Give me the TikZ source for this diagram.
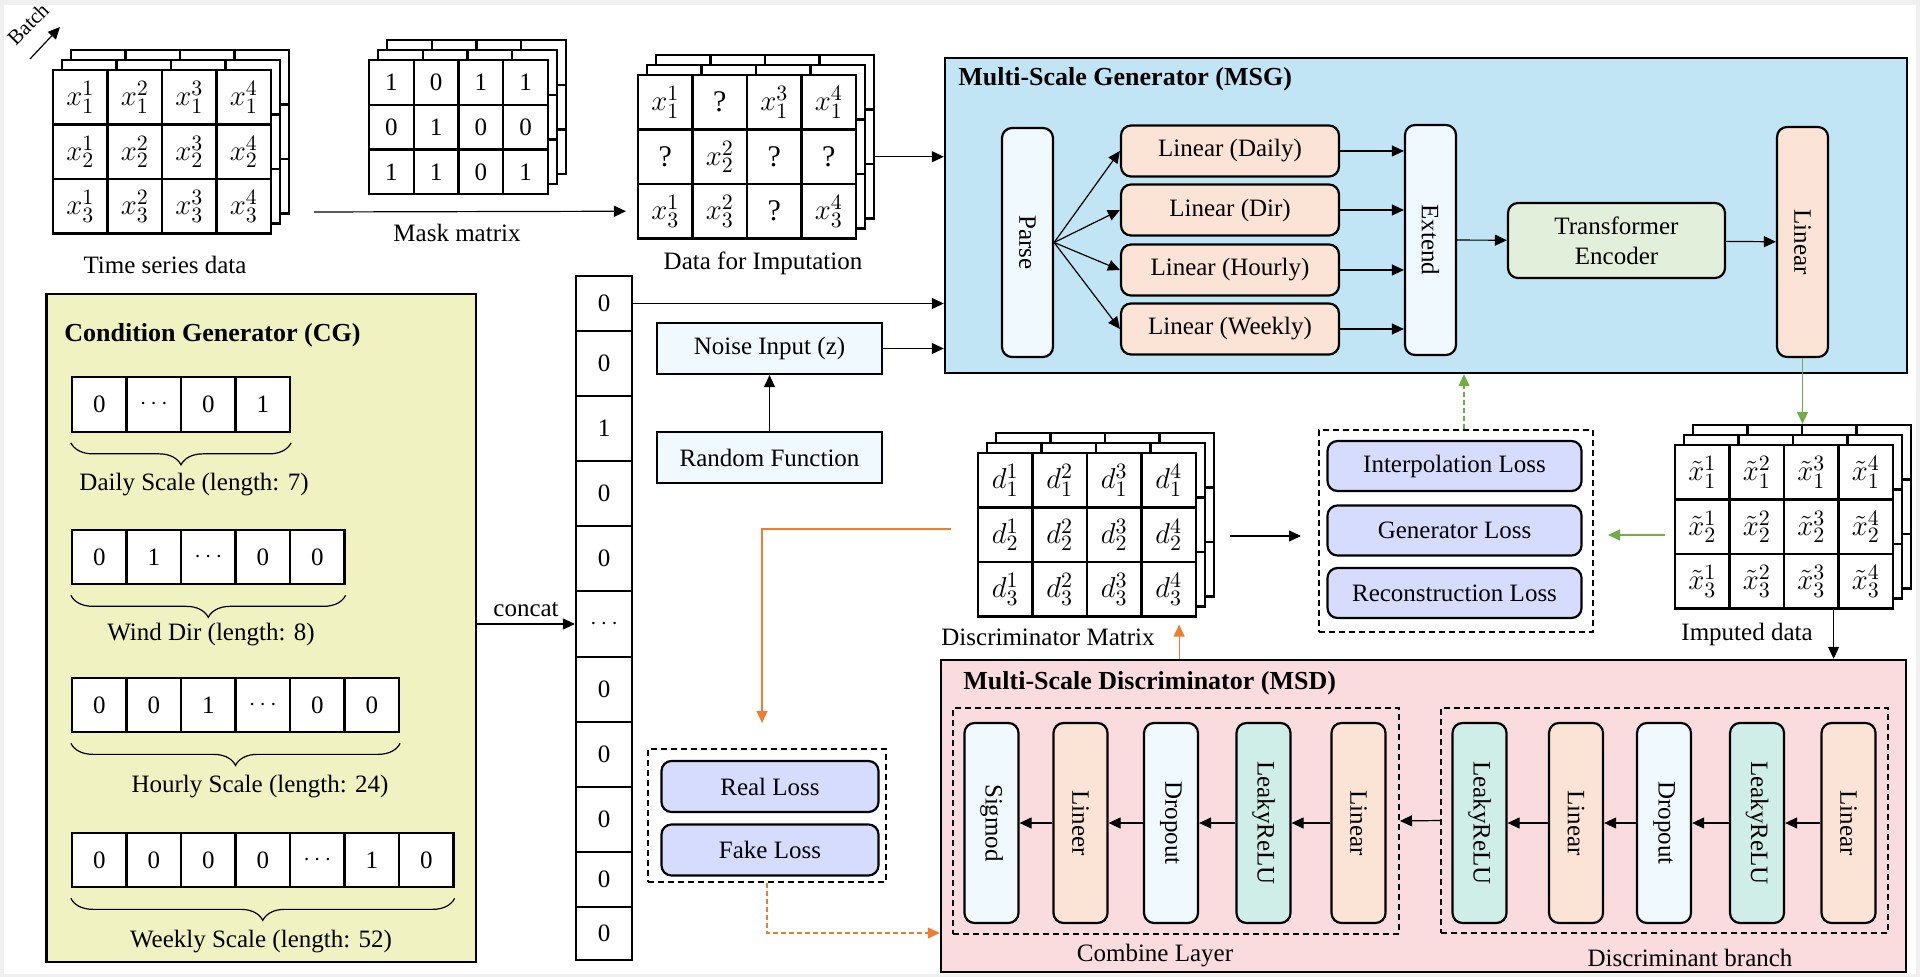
\documentclass[tikz,border=0pt]{standalone}
\usepackage{fontspec}
\setmainfont{Liberation Serif}
\usepackage{graphicx}
\usepackage{tikz}
\usetikzlibrary{arrows.meta}
\usetikzlibrary{decorations.pathreplacing}
\usetikzlibrary{calc}
\definecolor{pagegray}{RGB}{240,240,240}
\definecolor{cgyellow}{RGB}{240,243,193}
\definecolor{msgblue}{RGB}{193,229,245}
\definecolor{msdpink}{RGB}{250,219,222}
\definecolor{paleblue}{RGB}{239,249,254}
\definecolor{peach}{RGB}{251,227,214}
\definecolor{encgreen}{RGB}{226,239,218}
\definecolor{lossblue}{RGB}{214,220,254}
\definecolor{mint}{RGB}{207,238,231}
\definecolor{gline}{RGB}{112,173,71}
\definecolor{oline}{RGB}{237,125,49}
\tikzstyle{cell}=[draw, fill=white, line width=1.1pt, inner sep=0pt]
\tikzstyle{mathcell}=[cell, minimum size=27.25pt, font=\fontsize{15}{17}\selectfont]
\tikzstyle{bit}=[cell, minimum width=27.25pt, minimum height=27.25pt]
\tikzstyle{panel}=[draw, line width=1.2pt, inner sep=0pt]
\tikzstyle{rect}=[draw, line width=1.1pt, inner sep=0pt, minimum width=112.5pt, minimum height=25.5pt]
\tikzstyle{block}=[draw, rounded corners=5pt, line width=1.1pt, inner sep=0pt, align=center]
\tikzstyle{vblock}=[block, minimum width=27pt, minimum height=100pt]
\tikzstyle{dashbox}=[draw, line width=1pt, dash pattern=on 3pt off 2pt, inner sep=0pt]
\tikzstyle{edge}=[draw, line width=0.6pt, -{Triangle[length=6pt,width=5.5pt]}]
\tikzstyle{gedge}=[edge, gline]
\tikzstyle{oedge}=[edge, oline]
\tikzstyle{scalebrace}=[draw, line width=0.6pt, decorate, decoration={brace, mirror, amplitude=11pt}]
\tikzstyle{title}=[anchor=west, inner sep=0pt, font=\fontsize{13}{15}\selectfont\bfseries]

\begin{document}
\begin{tikzpicture}[x=0.5pt, y=-0.5pt, font=\fontsize{12.5}{15}\selectfont]
    \useasboundingbox (0,0) rectangle (1920,977);
    \fill[pagegray] (0,0) rectangle (1920,977);
    \fill[white] (4,5) rectangle (1916,974);

    % First the three panels
    \node[panel, fill=cgyellow, minimum width=214.75pt, minimum height=334pt] (cg) at (261.25,628) {};
    \node[panel, fill=msgblue, minimum width=481pt, minimum height=157.5pt] (msg) at (1426,215.5) {};
    \node[panel, fill=msdpink, minimum width=482.5pt, minimum height=156pt] (msd) at (1423.5,816) {};
    \node[title] (cgtitle) at (64,335) {Condition Generator (CG)};
    \node[title] (msgtitle) at (958,79) {Multi-Scale Generator (MSG)};
    \node[title] (msdtitle) at (963,683) {Multi-Scale Discriminator (MSD)};

    % Stacked matrices: the two layers behind
    \foreach \mx/\my/\s/\nm in {53/70/54.5/ts, 369/60/44.75/mk, 638/75/54.5/di, 978/453/54.5/dm, 1675/445/54.5/im}
        \foreach \k in {2,1}
            \foreach \r in {1,2,3}
                \foreach \c in {1,...,4}
                    \node[cell, minimum width=\s*0.5pt, minimum height=\s*0.5pt] (\nm-b\k-\r-\c) at ({\mx+\k*9+(\c-0.5)*\s}, {\my-\k*10+(\r-0.5)*\s}) {};

    % Front layers
    \foreach \mx/\my/\nm/\sym in {53/70/ts/x, 978/453/dm/d, 1675/445/im/{\tilde{x}}}
        \foreach \r in {1,2,3}
            \foreach \c in {1,...,4}
                \node[mathcell] (\nm-\r-\c) at ({\mx+(\c-0.5)*54.5}, {\my+(\r-0.5)*54.5}) {$\sym_{\r}^{\c}$};

    \foreach \r/\vals in {1/{1,0,1,1}, 2/{0,1,0,0}, 3/{1,1,0,1}}
        \foreach \v [count=\c] in \vals
            \node[cell, minimum size=22.4pt] (mk-\r-\c) at ({369+(\c-0.5)*44.75}, {60+(\r-0.5)*44.75}) {\v};

    \foreach \r/\c/\v in {1/1/{$x_1^1$}, 1/2/?, 1/3/{$x_1^3$}, 1/4/{$x_1^4$}, 2/1/?, 2/2/{$x_2^2$}, 2/3/?, 2/4/?, 3/1/{$x_3^1$}, 3/2/{$x_3^2$}, 3/3/?, 3/4/{$x_3^4$}}
        \node[mathcell] (di-\r-\c) at ({638+(\c-0.5)*54.5}, {75+(\r-0.5)*54.5}) {\v};

    \node (tslabel) at (165,265) {Time series data};
    \node (mklabel) at (457,233) {Mask matrix};
    \node (dilabel) at (763,263) {Data for Imputation};
    \node (dmlabel) at (1048,637) {Discriminator Matrix};
    \node (imlabel) at (1747,634) {Imputed data};

    \node[rotate=45, font=\fontsize{10.5}{12}\selectfont] (batch) at (28,24) {Batch};
    \coordinate (bstart) at (30,59);
    \coordinate (bend) at (60,27);
    \draw[edge] (bstart) -- (bend);

    \coordinate (tsout) at (314,212);
    \draw[edge] (tsout) -- ([xshift=-5.5pt]di-3-1.west);
    \draw[edge] (di-2-4.east -| di-b2-2-4.east) -- (di-2-4.east -| msg.west);

    % One-hot vectors of the condition generator
    \foreach \y/\nm/\vals in {404.5/daily/{0,$\cdots$,0,1}, 557/wind/{0,1,$\cdots$,0,0}, 705/hourly/{0,0,1,$\cdots$,0,0}, 860/weekly/{0,0,0,0,$\cdots$,1,0}}
        \foreach \v [count=\c] in \vals
            \node[bit] (\nm-\c) at ({72+(\c-0.5)*54.5}, \y) {\v};

    \foreach \nm/\n/\lab/\lx/\ly in {daily/4/{Daily Scale (length: 7)}/194/485, wind/5/{Wind Dir (length: 8)}/211/635, hourly/6/{Hourly Scale (length: 24)}/260/787, weekly/7/{Weekly Scale (length: 52)}/261/942}
    {
        \draw[scalebrace] ([yshift=-5pt]\nm-1.south west) -- ([yshift=-5pt]\nm-\n.south east);
        \node (\nm-lab) at (\lx,\ly) {\lab};
    }

    % Concatenated condition vector
    \foreach \y/\h/\v [count=\i] in {303.5/55/0, 363.5/65/0, 428.5/65/1, 493.5/65/0, 558.5/65/0, 624/66/{$\cdots$}, 689.5/65/0, 754.5/65/0, 819.5/65/0, 879.5/55/0, 933.5/53/0}
        \node[cell, minimum width=28pt, minimum height=\h*0.5pt] (cc-\i) at (604,\y) {\v};

    \draw[edge] (cc-6.west -| cg.east) -- node[above] (cclab) {concat} (cc-6.west);
    \draw[edge] (cc-1.east) -- (cc-1.east -| msg.west);

    \node[rect, fill=paleblue] (noise) at (769.5,348.5) {Noise Input (z)};
    \node[rect, fill=paleblue] (rand) at (769.5,457.5) {Random Function};
    \draw[edge] (rand) -- (noise);
    \draw[edge] (noise.east) -- (noise.east -| msg.west);

    % Generator
    \node[vblock, fill=paleblue, minimum width=25.5pt, minimum height=114.5pt] (parse) at (1027.5,242.5) {\rotatebox{-90}{Parse}};
    \foreach \y/\nm/\txt in {151/lday/Daily, 210/ldir/Dir, 270/lhour/Hourly, 329/lweek/Weekly}
        \node[block, fill=peach, minimum width=109pt, minimum height=25.5pt] (\nm) at (1230,\y) {Linear (\txt)};
    \node[vblock, fill=paleblue, minimum width=25.5pt, minimum height=115pt] (extend) at (1430.5,240) {\rotatebox{-90}{Extend}};
    \node[block, fill=encgreen, minimum width=108.5pt, minimum height=37.5pt] (encoder) at (1616.5,240.5) {Transformer\\Encoder};
    \node[vblock, fill=peach, minimum width=25.5pt, minimum height=115pt] (glinear) at (1802.5,242) {\rotatebox{-90}{Linear}};

    \foreach \nm in {lday, ldir, lhour, lweek}
    {
        \draw[edge] (parse.east) -- (\nm.west);
        \draw[edge] (\nm.east) -- (\nm.east -| extend.west);
    }
    \draw[edge] (extend) -- (encoder);
    \draw[edge] (encoder) -- (glinear);
    \draw[gedge] (glinear.south) -- (glinear.south |- im-b2-1-1.north);

    % Losses
    \node[dashbox, minimum width=137pt, minimum height=101pt] (lossbox) at (1456,531) {};
    \foreach \y/\nm/\txt in {466/linterp/Interpolation Loss, 530.5/lgen/Generator Loss, 593/lrec/Reconstruction Loss}
        \node[block, fill=lossblue, minimum width=127pt, minimum height=25pt] (\nm) at (1454.5,\y) {\txt};
    \draw[gedge, dash pattern=on 2.5pt off 1.5pt] ([xshift=4pt]lossbox.north) -- ([xshift=4pt]lossbox.north |- msg.south);

    \coordinate (imout) at (1665,535);
    \draw[gedge] (imout) -- ([xshift=7pt]lossbox.east |- imout);
    \coordinate (dmout) at (1230,536);
    \draw[edge] (dmout) -- ([xshift=-8.5pt]lossbox.west |- dmout);
    \coordinate (imdown) at ([xshift=-3pt]im-3-3.south east);
    \draw[edge] (imdown) -- (imdown |- msd.north);

    \node[dashbox, minimum width=119pt, minimum height=66.5pt] (rfbox) at (767,815.5) {};
    \node[block, fill=lossblue, minimum width=108.5pt, minimum height=25.5pt] (lreal) at (770,786.5) {Real Loss};
    \node[block, fill=lossblue, minimum width=108.5pt, minimum height=25.5pt] (lfake) at (770,850) {Fake Loss};

    \coordinate (ostart) at (951,529);
    \coordinate (oend) at (762,723);
    \draw[oedge] (ostart) -| (oend);
    \draw[oedge, dash pattern=on 2.5pt off 1.5pt] (rfbox.south) |- ([yshift=-58.5pt]msd.west);
    \coordinate (dmin) at ([xshift=-9pt,yshift=-3.5pt]dm-3-4.south east);
    \draw[oedge] (dmin |- msd.north) -- (dmin);

    % Discriminator
    \node[dashbox, minimum width=223pt, minimum height=113pt] (combine) at (1176,821) {};
    \node[dashbox, minimum width=223.5pt, minimum height=112.5pt] (branch) at (1664.5,820.5) {};
    \node (comblab) at (1155,956) {Combine Layer};
    \node (branchlab) at (1690,958) {Discriminant branch};

    \foreach \x/\nm/\col/\txt in {991.5/csig/paleblue/Sigmod, 1080.5/clin2/peach/Lineer, 1171/cdrop/paleblue/Dropout, 1263.5/crelu/mint/LeakyReLU, 1358.5/clin1/peach/Linear, 1479.5/brelu2/mint/LeakyReLU, 1576/blin2/peach/Linear, 1664/bdrop/paleblue/Dropout, 1757/brelu1/mint/LeakyReLU, 1848.5/blin1/peach/Linear}
        \node[vblock, fill=\col] (\nm) at (\x,823) {\rotatebox{-90}{\txt}};

    \foreach \source/\dest in {clin1/crelu, crelu/cdrop, cdrop/clin2, clin2/csig, blin1/brelu1, brelu1/bdrop, bdrop/blin2, blin2/brelu2}
        \draw[edge] (\source) -- (\dest);
    \draw[edge] (branch.west) -- (combine.east);

\end{tikzpicture}
\end{document}
